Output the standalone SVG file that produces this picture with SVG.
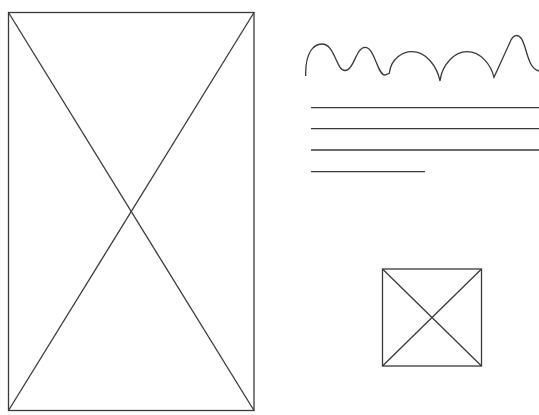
<svg xmlns="http://www.w3.org/2000/svg" width="539" height="415" viewBox="0 0 539 415">
<style>
.s{fill:none;stroke:#3a3a3a;stroke-width:1.3}
</style>
<rect width="539" height="415" fill="#fff"/>
<g id="image-large">
<rect class="s" x="8.5" y="12.5" width="245.5" height="398"/>
<line class="s" x1="8.5" y1="12.5" x2="254" y2="410.5"/>
<line class="s" x1="254" y1="12.5" x2="8.5" y2="410.5"/>
</g>
<g id="heading">
<path class="s" d="M305.7,76 C305,52 314,44 322,44 C335,44 336,70.5 345,70.5 C354,70.5 356,47.3 365,47.3 C375,47.3 377,75 385,75 L389.3,73.3 C391,58 403,51.7 412,51.7 C426,51.7 437,66 440,81 C442,64 455,51.7 467,51.7 C481,51.7 491,65 494,77.3 L511,40 C513.5,35 518,34 521,38 C527,46 527,68 539,71"/>
</g>
<g id="text-lines">
<line class="s" x1="311" y1="107.7" x2="539" y2="107.7"/>
<line class="s" x1="311" y1="128.7" x2="539" y2="128.7"/>
<line class="s" x1="311" y1="150" x2="539" y2="150"/>
<line class="s" x1="311" y1="171.7" x2="425" y2="171.7"/>
</g>
<g id="image-small">
<rect class="s" x="382.5" y="269" width="99" height="97"/>
<line class="s" x1="382.5" y1="269" x2="481.5" y2="366"/>
<line class="s" x1="481.5" y1="269" x2="382.5" y2="366"/>
</g>
</svg>
